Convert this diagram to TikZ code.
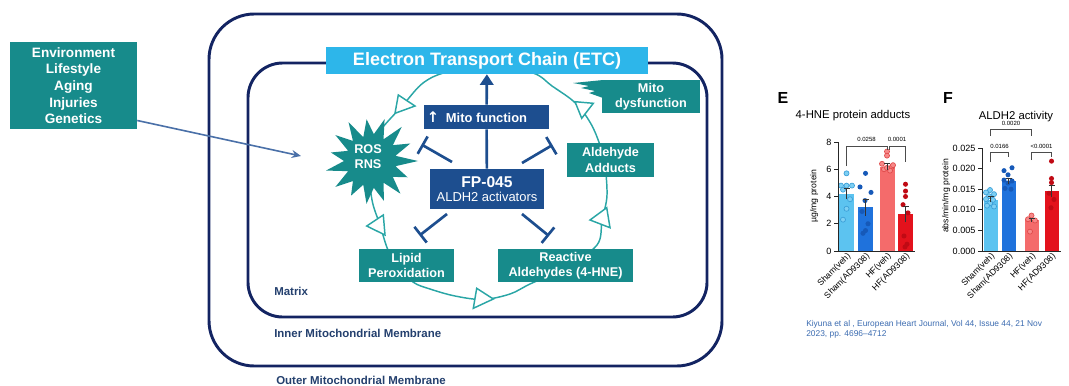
\documentclass[tikz,border=0pt]{standalone}
\usepackage{fontspec}
\setmainfont{Liberation Sans}
\newfontfamily\arrowfont{DejaVu Sans}
\usetikzlibrary{arrows.meta,calc}

\definecolor{tealbox}{HTML}{178B8B}
\definecolor{tealline}{HTML}{2AA6A6}
\definecolor{navybox}{HTML}{1D4E8F}
\definecolor{membrane}{HTML}{132462}
\definecolor{etcblue}{HTML}{2DB6EA}
\definecolor{labelnavy}{HTML}{24406E}
\definecolor{pointer}{HTML}{4A70A8}
\definecolor{citeblue}{HTML}{3B6BB0}
\definecolor{shamveh}{HTML}{5CC3F0}
\definecolor{shamvehdot}{HTML}{3A9FD8}
\definecolor{shamad}{HTML}{1F72DC}
\definecolor{shamaddot}{HTML}{1659B8}
\definecolor{hfveh}{HTML}{F46B6B}
\definecolor{hfvehdot}{HTML}{E04A4A}
\definecolor{hfad}{HTML}{E3121C}
\definecolor{hfaddot}{HTML}{C00A14}

\newcommand\myfs[2]{\fontsize{#1}{#2}\selectfont}

\begin{document}
\begin{tikzpicture}[x=0.75pt,y=-0.75pt,
  tbox/.style={fill=tealbox, text=white, font=\bfseries\myfs{9.5}{11.3}, align=center, inner sep=0pt},
  nbox/.style={fill=navybox, text=white, align=center, inner sep=0pt},
  navyline/.style={draw=navybox, line width=2pt},
  inhib/.style={draw=navybox, line width=2pt, -{Bar[width=15pt]}},
  ringline/.style={draw=tealline, line width=1.1pt},
  memline/.style={draw=membrane, line width=2.2pt},
  memlabel/.style={text=labelnavy, font=\bfseries\myfs{8.6}{10}, anchor=west, inner sep=0pt},
  axis/.style={draw=black!85, line width=0.6pt},
  ticklabel/.style={font=\myfs{6.8}{8}, inner sep=1pt},
  xlab/.style={font=\myfs{6.5}{8}, inner sep=0pt, rotate=45, anchor=east},
  pval/.style={font=\myfs{4.5}{5}, inner sep=0pt},
  errbar/.style={draw=black!80, line width=0.6pt},
  bracket/.style={draw=black!70, line width=0.4pt}]

\useasboundingbox (0,0) rectangle (1069,385);

% ---------- membranes ----------
\draw[memline, rounded corners=34pt] (209,14) rectangle (722,366);
\draw[memline, rounded corners=26pt] (248,63) rectangle (707,317);
\node[memlabel] (matrix) at (274,291) {Matrix};
\node[memlabel] (inner) at (274,333) {Inner Mitochondrial Membrane};
\node[memlabel] (outer) at (276,380) {Outer Mitochondrial Membrane};

% ---------- cycle ring ----------
\draw[ringline] plot[smooth cycle, tension=0.55] coordinates {
  (490,66) (533,73) (552,86) (572,100) (584,113) (595,132) (604,160)
  (607,195) (602,220) (597,245) (565,268) (530,284) (510,294) (483,299.5)
  (455,296) (430,289) (413,282) (398,265) (388,250) (380,225) (372,200)
  (369,165) (375,140) (383,127) (403,105) (423,83) (447,72)};

% open arrowheads on the ring
\filldraw[ringline, fill=white, line join=miter] (398.3,95) -- (415,106) -- (395,113.3) -- cycle;
\filldraw[ringline, fill=white, line join=miter] (575,101.7) -- (593.3,103.3) -- (581.7,118.3) -- cycle;
\filldraw[ringline, fill=white, line join=miter] (383.3,215) -- (366.7,226) -- (385,235) -- cycle;
\filldraw[ringline, fill=white, line join=miter] (606.7,207.7) -- (590,220) -- (610,227.7) -- cycle;
\filldraw[ringline, fill=white, line join=miter] (476.7,288.3) -- (473.3,308.3) -- (493.3,299) -- cycle;

% ---------- ROS / RNS burst ----------
\begin{scope}[shift={(371,161)}]
\fill[tealbox] (0:47)
  \foreach \a/\r in {12/25, 24/40, 36/27, 48/44, 60/25, 72/42, 84/27, 96/43,
    108/25, 120/40, 132/27, 144/44, 156/25, 168/46, 180/27, 192/41, 204/25,
    216/44, 228/27, 240/45, 252/25, 264/42, 276/27, 288/44, 300/25, 312/46,
    324/27, 336/43, 348/25} { -- (\a:\r) } -- cycle;
\end{scope}
\node[font=\bfseries\myfs{9.5}{11.3}, text=white, align=center, inner sep=0pt] (ros) at (368,157) {ROS\\RNS};

% ---------- boxes ----------
\node[fill=etcblue, text=white, font=\bfseries\myfs{13.5}{15}, minimum width=241.5pt, minimum height=20.25pt, inner sep=0pt] (etc) at (487,60.5) {Electron Transport Chain (ETC)};

\fill[tealbox] (603,80) -- (573,83) -- (589,86) -- (581,88) -- (595,91) -- (589,93) -- (603,98) -- cycle;
\node[tbox, minimum width=73.5pt, minimum height=24.75pt] (mitodys) at (651,96.5) {Mito\\dysfunction};

\node[nbox, font=\bfseries\myfs{9.7}{11}, minimum width=93.75pt, minimum height=18pt] (mitofn) at (486.5,117) {\makebox[0pt][r]{\arrowfont\bfseries\myfs{11}{11}↑\hspace{5pt}}Mito function};

\node[nbox, minimum width=85.5pt, minimum height=30pt] (fp) at (487,189)
  {{\bfseries\myfs{11.7}{13}FP-045}\\[-1pt]{\myfs{9.7}{11}ALDH2 activators}};

\node[tbox, minimum width=65.25pt, minimum height=25.5pt] (adducts) at (610.5,160) {Aldehyde\\Adducts};
\node[tbox, minimum width=71.25pt, minimum height=24.75pt] (lipid) at (406.5,265.5) {Lipid\\Peroxidation};
\node[tbox, minimum width=101.25pt, minimum height=24.75pt] (reactive) at (565.5,265.5) {Reactive\\Aldehydes (4-HNE)};

\node[tbox, font=\bfseries\myfs{10.2}{12.5}, minimum width=95.25pt, minimum height=64.5pt] (env) at (73.5,85.5)
  {Environment\\Lifestyle\\Aging\\Injuries\\Genetics};

% ---------- connectors ----------
\draw[navyline] (fp) -- (mitofn);
\draw[navyline, -{Triangle[length=8pt, width=10pt]}] (mitofn) -- (etc);

\coordinate (ulA) at (452,162);   \coordinate (ulB) at (421.5,144.5);
\coordinate (urA) at (522,163);   \coordinate (urB) at (552.5,145);
\coordinate (llA) at (447,214);   \coordinate (llB) at (419.5,235.5);
\coordinate (lrA) at (522,214);   \coordinate (lrB) at (549,236);
\draw[inhib] (ulA) -- (ulB);
\draw[inhib] (urA) -- (urB);
\draw[inhib] (llA) -- (llB);
\draw[inhib] (lrA) -- (lrB);

\coordinate (rosin) at (301,156);
\draw[draw=pointer, line width=1.2pt, -{Stealth[length=7pt, width=6pt]}] ($(env.east)+(0,35)$) -- (rosin);

% ---------- panel E ----------
\node[font=\bfseries\myfs{12}{14}, inner sep=0pt] (elabel) at (783,98) {E};
\node[font=\myfs{8.5}{10}, inner sep=0pt] (etitle) at (853,116) {4-HNE protein adducts};
\node[font=\myfs{6.5}{8}, rotate=90, inner sep=0pt] (eylab) at (814,196) {µg/mg protein};
\foreach \v in {0,2,4,6,8} {
  \draw[axis] (834,{251-13.625*\v}) -- (838,{251-13.625*\v});
  \node[ticklabel, anchor=east] (etick\v) at (833,{251-13.625*\v}) {\v};
}
\foreach \c/\m/\s/\col in {846.5/4.2/0.4/shamveh, 865.5/3.2/0.6/shamad, 887/6.2/0.25/hfveh, 905.5/2.7/0.6/hfad}
  \fill[\col] ({\c-7.5},251) rectangle ({\c+7.5},{251-13.625*\m});
% individual points
\foreach \x/\v in {846.5/5.7, 841/4.8, 846.5/4.8, 852/4.8, 843/4.5, 850/3.8, 846.5/3.1, 843/2.3}
  \filldraw[draw=shamvehdot, fill=shamveh!80!white, line width=0.5pt] (\x,{251-13.625*\v}) circle[radius=1.9pt];
\foreach \x/\v in {865.5/5.7, 860/4.7, 871/4.3, 865/3.7, 862/2.9, 868/2.0, 865.5/1.5, 863/1.3}
  \fill[shamaddot] (\x,{251-13.625*\v}) circle[radius=1.9pt];
\foreach \x/\v in {887/7.3, 887/7.0, 882/6.4, 892/6.2, 884/6.0, 890/5.9, 887/6.1, 893/6.3}
  \filldraw[draw=hfvehdot, fill=hfveh!80!white, line width=0.5pt] (\x,{251-13.625*\v}) circle[radius=1.9pt];
\foreach \x/\v in {905.5/4.9, 905.5/4.4, 905.5/4.0, 903/3.4, 908/2.8, 904/1.1, 907/0.5, 905/0.3}
  \fill[hfaddot] (\x,{251-13.625*\v}) circle[radius=1.9pt];
\foreach \c/\m/\s in {846.5/4.2/0.4, 865.5/3.2/0.6, 887/6.2/0.25, 905.5/2.7/0.6} {
  \draw[errbar] (\c,{251-13.625*(\m-\s)}) -- (\c,{251-13.625*(\m+\s)});
  \draw[errbar] ({\c-3},{251-13.625*(\m+\s)}) -- ({\c+3},{251-13.625*(\m+\s)});
}
\draw[axis] (838,142) -- (838,251) -- (915,251);
\foreach \c/\t [count=\i] in {846.5/Sham(veh), 865.5/Sham(AD9308), 887/HF(veh), 905.5/HF(AD9308)}
  \node[xlab] (exl\i) at ({\c+3},255) {\t};
\draw[bracket] (846.5,166) -- (846.5,146) -- (887,146) -- (887,150);
\node[pval] (ep1) at (866.5,139) {0.0258};
\draw[bracket] (889,150) -- (889,146) -- (905.5,146) -- (905.5,162);
\node[pval] (ep2) at (897,139) {0.0001};

% ---------- panel F ----------
\node[font=\bfseries\myfs{12}{14}, inner sep=0pt] (flabel) at (948,98) {F};
\node[font=\myfs{8.5}{10}, inner sep=0pt] (ftitle) at (1016,117) {ALDH2 activity};
\node[font=\myfs{6.5}{8}, rotate=90, inner sep=0pt] (fylab) at (946,196) {abs/min/mg protein};
\foreach \v/\t in {0/0.000, 0.005/0.005, 0.01/0.010, 0.015/0.015, 0.02/0.020, 0.025/0.025} {
  \draw[axis] (978,{251-4120*\v}) -- (982,{251-4120*\v});
  \node[ticklabel, anchor=east] (ftick\t) at (977,{251-4120*\v}) {\t};
}
\foreach \c/\m/\col in {990.5/0.0125/shamveh, 1008.5/0.017/shamad, 1031.5/0.0075/hfveh, 1051.5/0.0145/hfad}
  \fill[\col] ({\c-7},251) rectangle ({\c+7},{251-4120*\m});
\foreach \x/\v in {990/0.0148, 986/0.0142, 994/0.0138, 989/0.0133, 986/0.0126, 993/0.0124, 990/0.0116, 987/0.0110, 994/0.0108}
  \filldraw[draw=shamvehdot, fill=shamveh!80!white, line width=0.5pt] (\x,{251-4120*\v}) circle[radius=1.9pt];
\foreach \x/\v in {1004/0.0195, 1012/0.0202, 1008/0.0185, 1004/0.0172, 1012/0.0170, 1008/0.0165, 1005/0.0152, 1011/0.0150}
  \fill[shamaddot] (\x,{251-4120*\v}) circle[radius=1.9pt];
\foreach \x/\v in {1031.5/0.0086, 1028/0.0077, 1035/0.0074, 1030/0.0047}
  \filldraw[draw=hfvehdot, fill=hfveh!80!white, line width=0.5pt] (\x,{251-4120*\v}) circle[radius=1.9pt];
\foreach \x/\v in {1051.5/0.0218, 1051.5/0.0176, 1051.5/0.0166, 1049/0.0140, 1054/0.0125, 1051/0.0105}
  \fill[hfaddot] (\x,{251-4120*\v}) circle[radius=1.9pt];
\foreach \c/\m/\s in {990.5/0.0125/0.0007, 1008.5/0.017/0.0007, 1031.5/0.0075/0.0005, 1051.5/0.0145/0.0015} {
  \draw[errbar] (\c,{251-4120*(\m-\s)}) -- (\c,{251-4120*(\m+\s)});
  \draw[errbar] ({\c-3},{251-4120*(\m+\s)}) -- ({\c+3},{251-4120*(\m+\s)});
}
\draw[axis] (982,148) -- (982,251) -- (1061,251);
\foreach \c/\t [count=\i] in {990.5/Sham(veh), 1008.5/Sham(AD9308), 1031.5/HF(veh), 1051.5/HF(AD9308)}
  \node[xlab] (fxl\i) at ({\c+3},255) {\t};
\draw[bracket] (990.5,136) -- (990.5,129) -- (1031.5,129) -- (1031.5,136);
\node[pval] (fp1) at (1011,123) {0.0020};
\draw[bracket] (990.5,162) -- (990.5,152) -- (1008.5,152) -- (1008.5,157);
\node[pval] (fp2) at (999.5,146.5) {0.0166};
\draw[bracket] (1031.5,160) -- (1031.5,152) -- (1051.5,152) -- (1051.5,157);
\node[pval] (fp3) at (1041.5,146.5) {<0.0001};

% ---------- reference ----------
\node[text=citeblue, font=\myfs{6.3}{7.6}, align=left, anchor=north west, inner sep=0pt] (cite) at (806,320)
  {Kiyuna et al , European Heart Journal, Vol 44, Issue 44, 21 Nov\\2023, pp. 4696–4712};

\end{tikzpicture}
\end{document}
